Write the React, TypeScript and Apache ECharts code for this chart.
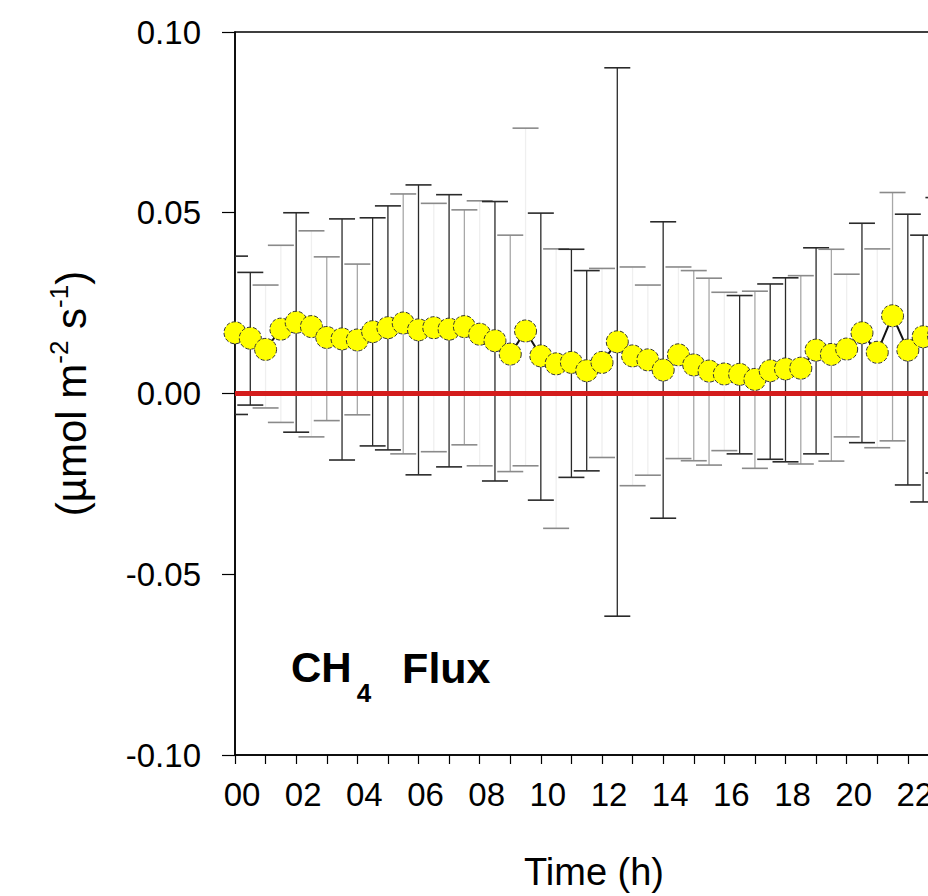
import React, { useEffect, useRef } from "react";
import * as echarts from "echarts";

// Half-hourly time stamps (h)
const hours = [
  0, 0.5, 1, 1.5, 2, 2.5, 3, 3.5, 4, 4.5, 5, 5.5, 6, 6.5, 7, 7.5,
  8, 8.5, 9, 9.5, 10, 10.5, 11, 11.5, 12, 12.5, 13, 13.5, 14, 14.5, 15, 15.5,
  16, 16.5, 17, 17.5, 18, 18.5, 19, 19.5, 20, 20.5, 21, 21.5, 22, 22.5, 23, 23.5,
];

// Mean CH4 flux (µmol m-2 s-1)
const fluxMean = [
  0.0168, 0.0153, 0.0122, 0.0178, 0.0197, 0.0185, 0.0155, 0.0151,
  0.0148, 0.0171, 0.0182, 0.0195, 0.0176, 0.0182, 0.0178, 0.0185,
  0.0164, 0.0146, 0.0109, 0.0173, 0.0104, 0.0082, 0.0086, 0.0063,
  0.0086, 0.0143, 0.0104, 0.0093, 0.0065, 0.0107, 0.0079, 0.0062,
  0.0054, 0.0053, 0.0039, 0.0063, 0.0068, 0.0070, 0.0120, 0.0108,
  0.0123, 0.0168, 0.0114, 0.0215, 0.0120, 0.0157, 0.0160, 0.0150,
];

// Upper end of the error bar
const fluxUpper = [
  0.038, 0.0335, 0.030, 0.041, 0.050, 0.045, 0.0378, 0.0483,
  0.0358, 0.0486, 0.0519, 0.0552, 0.0577, 0.0526, 0.0550, 0.0508,
  0.0533, 0.0531, 0.0438, 0.0734, 0.0499, 0.040, 0.0399, 0.0340,
  0.0346, 0.0901, 0.035, 0.030, 0.0475, 0.035, 0.0340, 0.0319,
  0.028, 0.0271, 0.0283, 0.0303, 0.0320, 0.0326, 0.0403, 0.0399,
  0.033, 0.0471, 0.040, 0.0556, 0.0496, 0.0438, 0.0542, 0.045,
];

// Lower end of the error bar
const fluxLower = [
  -0.0058, -0.0032, -0.004, -0.008, -0.0107, -0.012, -0.0075, -0.0184,
  -0.0059, -0.0145, -0.0156, -0.0167, -0.0225, -0.0161, -0.0203, -0.0142,
  -0.020, -0.0242, -0.0216, -0.020, -0.0295, -0.0373, -0.0232, -0.0214,
  -0.0177, -0.0616, -0.0255, -0.0226, -0.0345, -0.018, -0.0186, -0.0198,
  -0.0158, -0.0167, -0.0207, -0.0182, -0.0189, -0.0195, -0.0167, -0.0187,
  -0.012, -0.0136, -0.015, -0.0131, -0.0253, -0.030, -0.022, -0.020,
];

// Rendering tone of each error bar stem (0 dark, 1 grey, 2 faint) – styling only
const barTone = [
  0, 0, 2, 2, 0, 2, 1, 0, 1, 0, 0, 1, 0, 2, 0, 1,
  2, 0, 1, 2, 0, 2, 0, 0, 2, 0, 2, 2, 0, 2, 1, 1,
  2, 0, 1, 0, 0, 1, 0, 1, 2, 0, 2, 1, 0, 0, 0, 1,
];

// Tick labels every 2 h (the 24 h end of the axis lies outside the frame)
const xTickLabels = ["00", "02", "04", "06", "08", "10", "12", "14", "16", "18", "20", "22"];
const zeroLine = [[0, 0], [24, 0]];

const FONT = "'Liberation Sans', Arial, Helvetica, sans-serif";
const NARROW = "'Liberation Sans Narrow', 'Arial Narrow', 'Liberation Sans', sans-serif";
const stemColors = ["#2a2a2a", "#a8a8a8", "#efefef"];
const capColors = ["#2a2a2a", "#8a8a8a", "#8a8a8a"];

export default function App() {
  const ref = useRef<HTMLDivElement>(null);

  useEffect(() => {
    document.body.style.margin = "0";
    document.body.style.overflow = "hidden";
    if (!ref.current) return;
    const chart = echarts.init(ref.current, null, { renderer: "svg" });

    const errData = hours.map((h, i) => [h, fluxUpper[i], fluxLower[i], barTone[i]]);
    const meanData = hours.map((h, i) => [h, fluxMean[i]]);

    const option: any = {
      animation: false,
      backgroundColor: "#ffffff",
      grid: {
        left: 235,
        right: 31,
        top: 32,
        bottom: 141,
        show: true,
        borderColor: "#000",
        borderWidth: 1.5,
        backgroundColor: "transparent",
      },
      xAxis: {
        type: "value",
        min: 0,
        max: 24,
        interval: 1,
        name: "Time (h)",
        nameLocation: "middle",
        nameGap: 98,
        nameTextStyle: { fontFamily: FONT, fontSize: 38, color: "#000", padding: [0, 16, 0, 0] },
        axisLine: { show: true, onZero: false, lineStyle: { color: "#000", width: 1.5 } },
        axisTick: { show: true, inside: false, length: 9, lineStyle: { color: "#000", width: 1.2 } },
        axisLabel: {
          show: true,
          margin: 23,
          fontFamily: NARROW,
          fontSize: 33,
          color: "#000",
          padding: [0, 0, 0, 14],
          formatter: (v: number) => (v % 2 === 0 && v / 2 < xTickLabels.length ? xTickLabels[v / 2] : ""),
        },
        splitLine: { show: false },
      },
      yAxis: {
        type: "value",
        min: -0.1,
        max: 0.1,
        interval: 0.05,
        name: "{a|(µmol m}{s|-2}{a| s}{s|-1}{a|)}",
        nameLocation: "middle",
        nameRotate: 90,
        nameGap: 139,
        nameTextStyle: {
          rich: {
            a: { fontFamily: FONT, fontSize: 42, color: "#000", lineHeight: 50 },
            s: { fontFamily: FONT, fontSize: 26, color: "#000", verticalAlign: "top", lineHeight: 28 },
          },
        },
        axisLine: { show: true, onZero: false, lineStyle: { color: "#000", width: 1.5 } },
        axisTick: { show: true, inside: false, length: 13, lineStyle: { color: "#000", width: 1.2 } },
        axisLabel: {
          margin: 34,
          fontFamily: FONT,
          fontSize: 33,
          color: "#000",
          formatter: (v: number) => (Math.abs(v) < 1e-9 ? "0.00" : v.toFixed(2)),
        },
        splitLine: { show: false },
      },
      series: [
        {
          type: "custom",
          name: "error",
          z: 2,
          clip: true,
          data: errData,
          encode: { x: 0, y: [1, 2] },
          renderItem: (params: any, api: any) => {
            const x = api.value(0);
            const hi = api.value(1);
            const lo = api.value(2);
            const tone = api.value(3);
            const top = api.coord([x, hi]);
            const bot = api.coord([x, lo]);
            const hw = 13;
            return {
              type: "group",
              children: [
                {
                  type: "line",
                  shape: { x1: top[0], y1: top[1], x2: bot[0], y2: bot[1] },
                  style: { stroke: stemColors[tone], lineWidth: 1.3 },
                },
                {
                  type: "line",
                  shape: { x1: top[0] - hw, y1: top[1], x2: top[0] + hw, y2: top[1] },
                  style: { stroke: capColors[tone], lineWidth: 1.6 },
                },
                {
                  type: "line",
                  shape: { x1: bot[0] - hw, y1: bot[1], x2: bot[0] + hw, y2: bot[1] },
                  style: { stroke: capColors[tone], lineWidth: 1.6 },
                },
              ],
            };
          },
        },
        {
          type: "line",
          name: "zero",
          z: 3,
          data: zeroLine,
          symbol: "none",
          silent: true,
          lineStyle: { color: "#d41c1c", width: 5 },
        },
        {
          type: "line",
          name: "CH4 flux",
          z: 5,
          data: meanData,
          symbol: "circle",
          symbolSize: 22,
          clip: true,
          lineStyle: { color: "#111", width: 2 },
          itemStyle: {
            color: "#ffff00",
            borderColor: "#333",
            borderWidth: 1,
            borderType: "dashed",
          },
        },
      ],
      graphic: [
        {
          type: "text",
          x: 291,
          y: 646,
          z: 10,
          style: {
            text: "{a|CH}{b|4}{c|Flux}",
            x: 0,
            y: 0,
            align: "left",
            verticalAlign: "top",
            textAlign: "left",
            textVerticalAlign: "top",
            rich: {
              a: { fontFamily: FONT, fontWeight: "bold", fontSize: 42, color: "#000", lineHeight: 48, verticalAlign: "top" },
              b: {
                fontFamily: FONT,
                fontWeight: "bold",
                fontSize: 26,
                color: "#000",
                lineHeight: 28,
                verticalAlign: "top",
                padding: [34, 0, 0, 5],
              },
              c: {
                fontFamily: FONT,
                fontWeight: "bold",
                fontSize: 43,
                color: "#000",
                lineHeight: 48,
                verticalAlign: "top",
                padding: [0, 0, 0, 31],
              },
            },
          },
        },
      ],
    };

    chart.setOption(option);
    return () => chart.dispose();
  }, []);

  return (
    <div style={{ width: 928, height: 896, overflow: "hidden" }}>
      <div ref={ref} style={{ width: 1000, height: 896 }} />
    </div>
  );
}
